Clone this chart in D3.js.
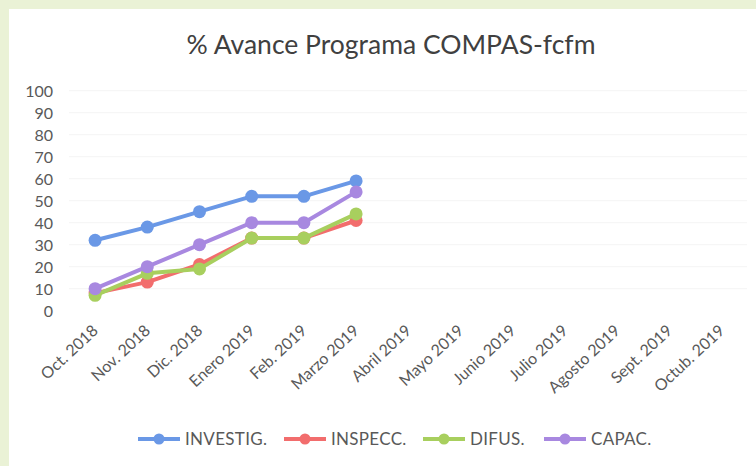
<!DOCTYPE html>
<html><head><meta charset="utf-8">
<script src="https://cdn.jsdelivr.net/npm/d3@7"></script>
<style>body{margin:0;background:#fff}svg{display:block}</style>
</head><body>
<svg id="c" width="756" height="466"></svg>
<script>
const categories = ["Oct. 2018","Nov. 2018","Dic. 2018","Enero 2019","Feb. 2019","Marzo 2019","Abril 2019","Mayo 2019","Junio 2019","Julio 2019","Agosto 2019","Sept. 2019","Octub. 2019"];
const investig = [32, 38, 45, 52, 52, 59];
const inspecc = [8, 13, 21, 33, 33, 41];
const difus = [7, 17, 19, 33, 33, 44];
const capac = [10, 20, 30, 40, 40, 54];
const yTicks = [0,10,20,30,40,50,60,70,80,90,100];
const seriesNames = ["INVESTIG.","INSPECC.","DIFUS.","CAPAC."];
const seriesColors = ["#6a98e6","#f26d6d","#a8cf5e","#a888e0"];
const seriesData = [investig, inspecc, difus, capac];

const FONT = "Lato, 'Open Sans', sans-serif";
const svg = d3.select("#c");
// photo frame
svg.append("rect").attr("x",0).attr("y",0).attr("width",756).attr("height",466).attr("fill","#eaf2d6");
svg.append("rect").attr("x",9).attr("y",9).attr("width",747).attr("height",457).attr("fill","#ffffff");

svg.append("text").attr("x",391).attr("y",54).attr("text-anchor","middle")
  .attr("font-family",FONT).attr("font-size",26.5).attr("fill","#404040")
  .text("% Avance Programa COMPAS-fcfm");

const x = d3.scaleBand().domain(categories).range([69, 747.6]);
const y = d3.scaleLinear().domain([0,100]).range([310.7, 90.7]);

// faint gridlines
svg.append("g").selectAll("line").data(yTicks.slice(1)).join("line")
  .attr("x1",69).attr("x2",747).attr("y1",d=>y(d)).attr("y2",d=>y(d))
  .attr("stroke","#f4f4f4").attr("stroke-width",1);

const yAxis = svg.append("g").attr("transform","translate(53,0)")
  .call(d3.axisLeft(y).tickValues(yTicks).tickSize(0).tickPadding(0));
yAxis.select(".domain").remove();
yAxis.selectAll("text").attr("font-family",FONT).attr("font-size",16).attr("fill","#595959").attr("dy","0.35em");

const xAxis = svg.append("g").attr("transform","translate(0,318)")
  .call(d3.axisBottom(x).tickSize(0).tickPadding(0));
xAxis.select(".domain").remove();
xAxis.selectAll("text").attr("font-family",FONT).attr("font-size",16).attr("fill","#595959")
  .attr("text-anchor","end").attr("dy","0").attr("y",0)
  .attr("transform","translate(4,14) rotate(-43)");

const line = d3.line().x((d,i)=>x(categories[i])+x.bandwidth()/2).y(d=>y(d));
seriesData.forEach((s,k)=>{
  const g = svg.append("g");
  g.append("path").datum(s).attr("d",line).attr("fill","none").attr("stroke",seriesColors[k]).attr("stroke-width",4).attr("stroke-linejoin","round");
  g.selectAll("circle").data(s).join("circle")
    .attr("cx",(d,i)=>x(categories[i])+x.bandwidth()/2).attr("cy",d=>y(d)).attr("r",6.5)
    .attr("fill",seriesColors[k]);
});

// legend
const legX = [138, 284, 423, 544];
seriesNames.forEach((n,k)=>{
  const g = svg.append("g").attr("transform",`translate(${legX[k]},439)`);
  g.append("line").attr("x1",0).attr("x2",42).attr("y1",0).attr("y2",0).attr("stroke",seriesColors[k]).attr("stroke-width",4);
  g.append("circle").attr("cx",21).attr("cy",0).attr("r",5.5).attr("fill",seriesColors[k]);
  g.append("text").attr("x",47).attr("y",0).attr("dy","0.36em").attr("font-family",FONT)
    .attr("font-size",17).attr("fill","#595959").attr("letter-spacing",0.3).text(n);
});
</script>
</body></html>
